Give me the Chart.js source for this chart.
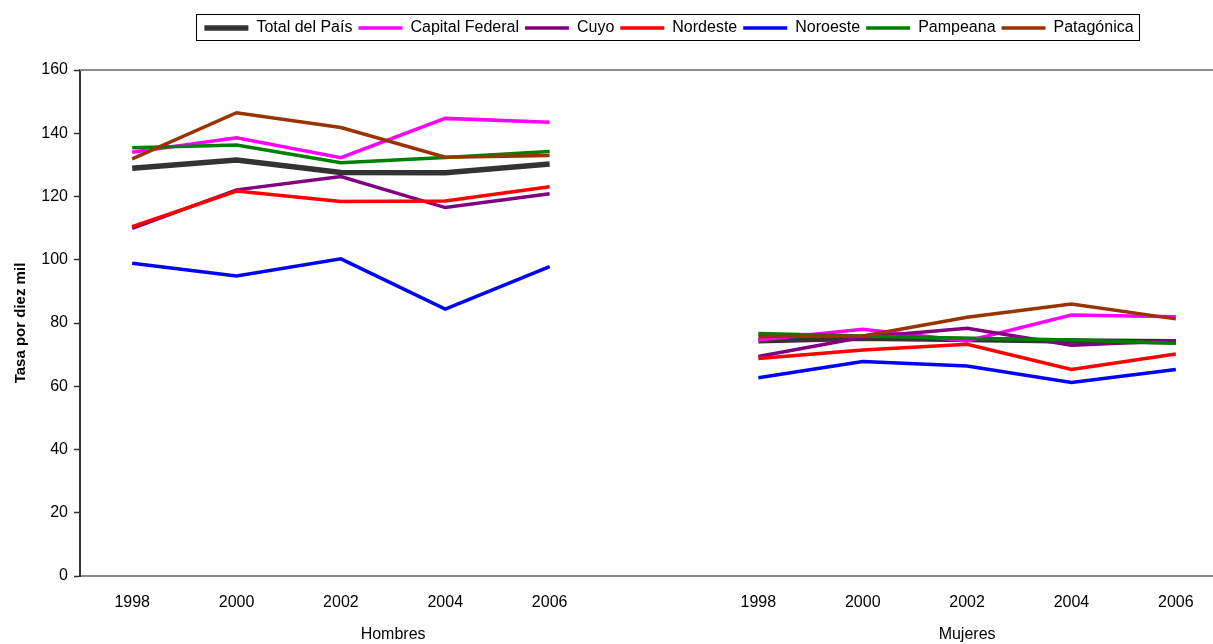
<!DOCTYPE html>
<html>
<head>
<meta charset="utf-8">
<script src="https://cdn.jsdelivr.net/npm/chart.js@4/dist/chart.umd.min.js"></script>
<style>
  body { margin: 0; background: #fff; }
  .wrap { width: 1213px; height: 644px; overflow: hidden; }
</style>
</head>
<body>
<div class="wrap"><canvas id="my-chart" width="1230" height="644"></canvas></div>
<script>
const years = ["1998", "2000", "2002", "2004", "2006"];
const groups = ["Hombres", "Mujeres"];
const yTicks = [0, 20, 40, 60, 80, 100, 120, 140, 160];

// values per region: hombres then mujeres
const totalH = [128.9, 131.5, 127.6, 127.5, 130.3];
const totalM = [74.4, 75.2, 74.8, 74.3, 74.1];
const capitalH = [134.0, 138.6, 132.3, 144.7, 143.5];
const capitalM = [74.6, 78.0, 74.3, 82.5, 82.0];
const cuyoH = [109.9, 122.1, 126.3, 116.5, 120.9];
const cuyoM = [69.4, 75.5, 78.3, 73.0, 74.4];
const nordesteH = [110.5, 121.7, 118.4, 118.6, 123.1];
const nordesteM = [68.8, 71.5, 73.3, 65.3, 70.2];
const noroesteH = [98.9, 94.9, 100.3, 84.4, 97.8];
const noroesteM = [62.7, 67.8, 66.4, 61.2, 65.3];
const pampeanaH = [135.4, 136.3, 130.7, 132.3, 134.2];
const pampeanaM = [76.7, 75.9, 75.2, 74.6, 73.6];
const patagonicaH = [131.9, 146.5, 141.8, 132.4, 133.0];
const patagonicaM = [75.7, 75.9, 81.8, 86.0, 81.3];

const FONT = "'Liberation Sans', Arial, sans-serif";

// one empty category between the two groups
const labels = [...years, "", ...years];
function joinSeries(h, m) {
  return [...h, null, ...m];
}

const series = [
  { label: "Total del País", h: totalH, m: totalM, color: "#333333", width: 5.5 },
  { label: "Capital Federal", h: capitalH, m: capitalM, color: "#FF00FF", width: 3.5 },
  { label: "Cuyo", h: cuyoH, m: cuyoM, color: "#800080", width: 3.5 },
  { label: "Nordeste", h: nordesteH, m: nordesteM, color: "#FF0000", width: 3.5 },
  { label: "Noroeste", h: noroesteH, m: noroesteM, color: "#0000FF", width: 3.5 },
  { label: "Pampeana", h: pampeanaH, m: pampeanaM, color: "#008000", width: 3.5 },
  { label: "Patagónica", h: patagonicaH, m: patagonicaM, color: "#993300", width: 3.5 },
];

const datasets = series.map((s, i) => ({
  label: s.label,
  data: joinSeries(s.h, s.m),
  borderColor: s.color,
  backgroundColor: s.color,
  borderWidth: s.width,
  pointRadius: 0,
  pointHoverRadius: 0,
  tension: 0,
  spanGaps: false,
  // later series drawn on top, like the original
  order: series.length - i,
}));

// frame of the plot area + box round the legend + group names
const extras = {
  id: "extras",
  afterLayout(chart) {
    const lg = chart.legend;
    lg.left += 15;
    lg.right += 15;
  },
  beforeDatasetsDraw(chart) {
    const { ctx, chartArea } = chart;
    ctx.save();
    ctx.strokeStyle = "#8c8c8c";
    ctx.lineWidth = 2;
    ctx.beginPath();
    ctx.moveTo(chartArea.left, chartArea.top);
    ctx.lineTo(chartArea.right + 10, chartArea.top);
    ctx.stroke();
    ctx.restore();
  },
  afterDraw(chart) {
    const { ctx } = chart;
    const lg = chart.legend;
    const pad = lg.options.labels.padding;
    const lw = lg.lineWidths[0];
    const start = (lg.left + pad + lg.right - lw) / 2;
    const top = lg.top + pad;
    ctx.save();
    ctx.strokeStyle = "#000";
    ctx.lineWidth = 1;
    ctx.strokeRect(Math.round(start - 8) + 0.5, top - 5.5, Math.round(lw - pad + 14), 26);

    // group labels under the years
    const x = chart.scales.x;
    ctx.fillStyle = "#000";
    ctx.font = "16px " + FONT;
    ctx.textAlign = "center";
    ctx.textBaseline = "middle";
    const hx = (x.getPixelForValue(2) + x.getPixelForValue(3)) / 2;
    const mx = x.getPixelForValue(8);
    ctx.fillText(groups[0], hx, 635);
    ctx.fillText(groups[1], mx, 635);
    ctx.restore();
  },
};

const chart = new Chart(document.getElementById("my-chart"), {
  type: "line",
  data: { labels: labels, datasets: datasets },
  plugins: [extras],
  options: {
    responsive: false,
    animation: false,
    events: [],
    layout: { padding: { left: 0, right: 2, top: 14, bottom: 0 } },
    plugins: {
      tooltip: { enabled: false },
      // empty title used as a spacer between legend and plot
      title: {
        display: true,
        text: "",
        weight: 500,
        font: { size: 20 },
        padding: 0,
      },
      legend: {
        display: true,
        position: "top",
        fullSize: false,
        labels: {
          color: "#000",
          font: { family: FONT, size: 16 },
          usePointStyle: true,
          pointStyle: "line",
          pointStyleWidth: 44,
          padding: 6,
          sort: (a, b) => a.datasetIndex - b.datasetIndex,
        },
      },
    },
    scales: {
      x: {
        type: "category",
        offset: true,
        afterFit: (scale) => { scale.height = 68; },
        grid: { display: false, drawTicks: false },
        border: { display: true, color: "#8c8c8c", width: 2 },
        ticks: {
          color: "#000",
          font: { family: FONT, size: 16 },
          padding: 17,
          maxRotation: 0,
          autoSkip: false,
        },
      },
      y: {
        min: 0,
        max: 160,
        afterFit: (scale) => { scale.width = 80; },
        afterBuildTicks: (scale) => { scale.ticks = yTicks.map((v) => ({ value: v })); },
        grid: {
          drawOnChartArea: false,
          drawTicks: true,
          tickLength: 6,
          tickWidth: 1.5,
          tickColor: "#333",
        },
        border: { display: true, color: "#333", width: 2 },
        ticks: {
          color: "#000",
          font: { family: FONT, size: 16 },
          padding: 6,
        },
        title: {
          display: true,
          text: "Tasa por diez mil",
          color: "#000",
          font: { family: FONT, size: 15, weight: "bold" },
          padding: { top: 12, bottom: 0 },
        },
      },
    },
  },
});
</script>
</body>
</html>
